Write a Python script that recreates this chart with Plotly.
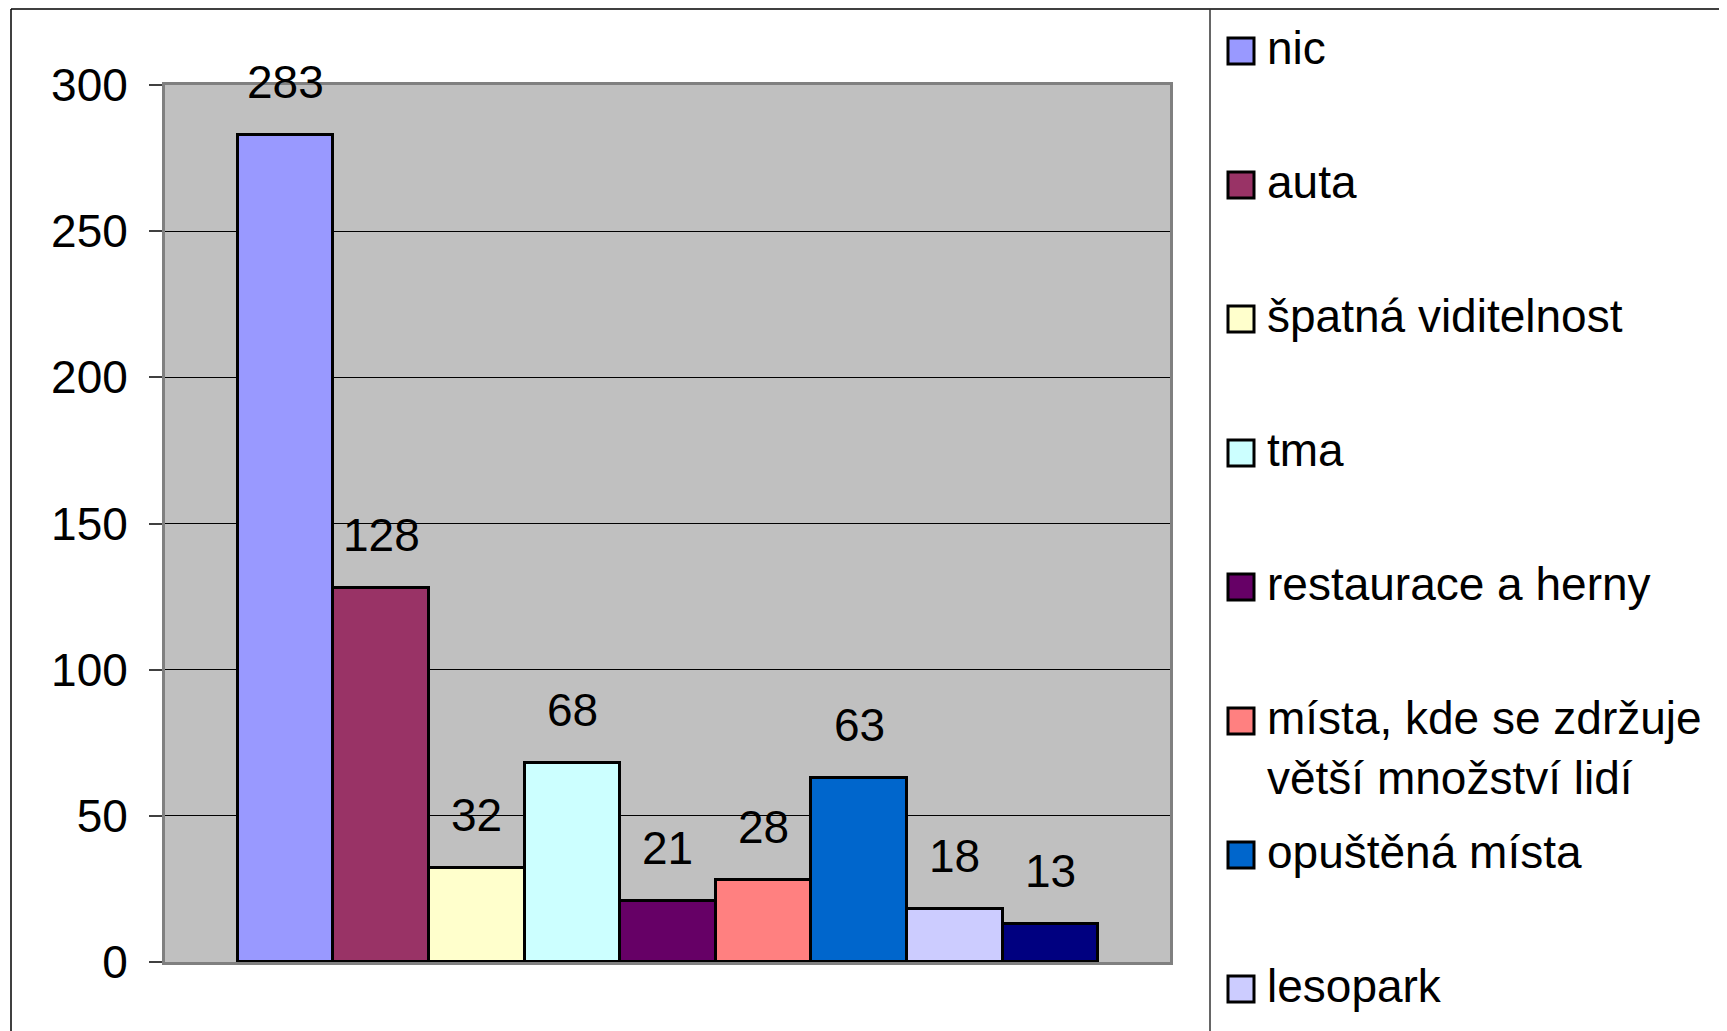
import plotly.graph_objects as go

# ---- data ----
categories = ["nic", "auta", "špatná viditelnost", "tma", "restaurace a herny",
              "místa, kde se zdržuje<br>větší množství lidí", "opuštěná místa",
              "lesopark", "ostatní"]
values = [283, 128, 32, 68, 21, 28, 63, 18, 13]
colors = ["#9999FF", "#993366", "#FFFFCC", "#CCFFFF", "#660066",
          "#FF8080", "#0066CC", "#CCCCFF", "#000080"]
y_ticks = [0, 50, 100, 150, 200, 250, 300]

OFF = 8  # page body margin
W, H = 1727 - OFF, 1031 - OFF
L, R, T, B = 165 - OFF, 1170 - OFF, 85 - OFF, 962 - OFF  # plot area in pixels
FONT = "Liberation Sans, Arial, sans-serif"
FS = 46


def px_x(px):
    return (px - OFF - L) / (R - L)


def px_y(py):
    return (B - (py - OFF)) / (B - T)


fig = go.Figure()
for i, (name, val, col) in enumerate(zip(categories, values, colors)):
    fig.add_trace(go.Bar(
        x=[i], y=[val], name=name,
        marker=dict(color=col, line=dict(color="black", width=3)),
        width=1.0, showlegend=False, hoverinfo="skip",
    ))
    fig.add_annotation(x=i, y=val, xref="x", yref="y", text=str(val),
                       showarrow=False, yanchor="middle", yshift=53,
                       font=dict(family=FONT, size=FS, color="black"))

# frame lines (reference pixel coordinates)
frame = dict(color="black", width=1.5)
fig.add_shape(type="line", xref="paper", yref="paper",
              x0=px_x(11), x1=px_x(1740), y0=px_y(9), y1=px_y(9), line=frame)
fig.add_shape(type="line", xref="paper", yref="paper",
              x0=px_x(11), x1=px_x(11), y0=px_y(9), y1=px_y(1040), line=frame)
fig.add_shape(type="line", xref="paper", yref="paper",
              x0=px_x(1210), x1=px_x(1210), y0=px_y(9), y1=px_y(1040),
              line=dict(color="#333333", width=1.5))

# legend (manual, Excel-like evenly spaced)
for i, (name, col) in enumerate(zip(categories[:8], colors[:8])):
    cy = 51 + 134 * i
    fig.add_shape(type="rect", xref="paper", yref="paper",
                  x0=px_x(1228), x1=px_x(1254), y0=px_y(cy - 13), y1=px_y(cy + 13),
                  fillcolor=col, line=dict(color="black", width=3))
    nlines = name.count("<br>") + 1
    ty = cy - 3 + (nlines - 1) * 29.5
    fig.add_annotation(xref="paper", yref="paper", x=px_x(1265), y=px_y(ty),
                       xanchor="left", yanchor="middle", align="left",
                       text=name, showarrow=False,
                       font=dict(family=FONT, size=FS, color="black"))

fig.update_layout(
    width=W, height=H,
    margin=dict(l=L, r=W - R, t=T, b=H - B, pad=0),
    paper_bgcolor="white", plot_bgcolor="#C0C0C0",
    barmode="overlay", bargap=0,
    showlegend=False,
    font=dict(family=FONT, size=FS, color="black"),
    xaxis=dict(range=[-1.26, 9.25], showticklabels=False, ticks="",
               showgrid=False, zeroline=False, showline=True, mirror=True,
               linecolor="#808080", linewidth=3, layer="below traces"),
    yaxis=dict(range=[0, 300], tickvals=y_ticks, ticks="outside", ticklen=13,
               tickcolor="#404040", tickwidth=1.5, showgrid=True,
               gridcolor="black", gridwidth=1, zeroline=False,
               showline=True, mirror=True, linecolor="#808080", linewidth=3,
               layer="below traces", ticklabelstandoff=12,
               tickfont=dict(family=FONT, size=FS, color="black")),
)

fig.write_html("out.html")
